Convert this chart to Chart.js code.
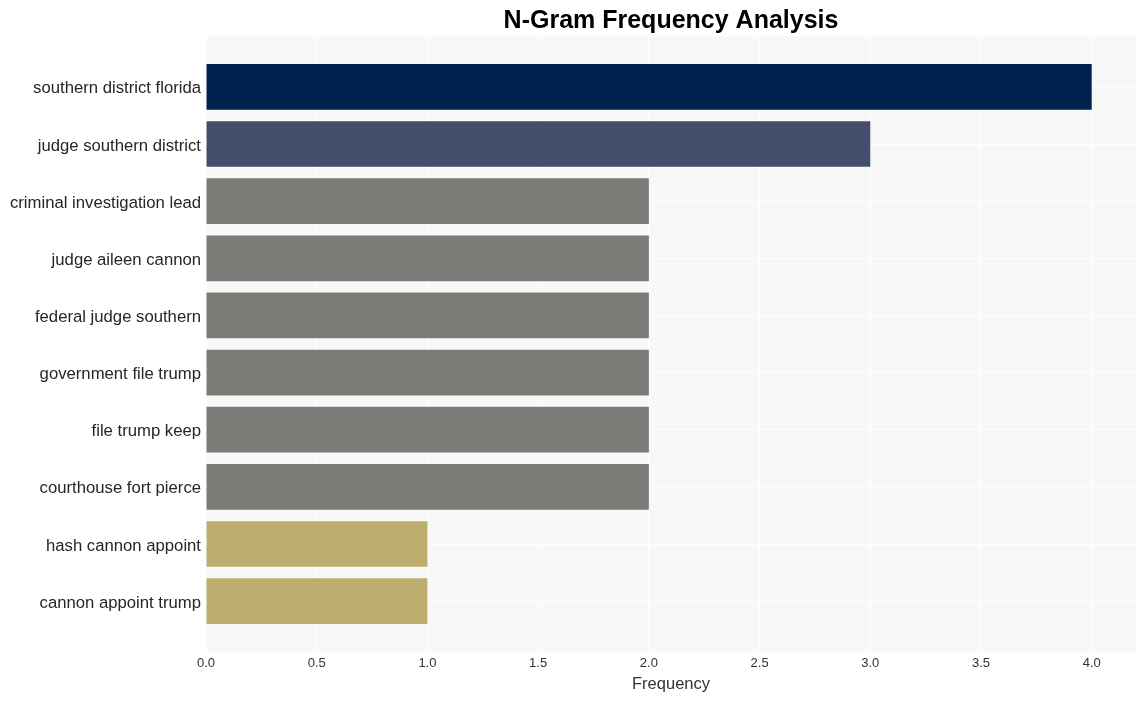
<!DOCTYPE html>
<html>
<head>
<meta charset="utf-8">
<script src="https://cdn.jsdelivr.net/npm/chart.js@4.4.1/dist/chart.umd.min.js"></script>
<style>
  html, body { margin: 0; padding: 0; background: #fff; }
  #wrap { width: 1145px; height: 701px; }
</style>
</head>
<body>
<div id="wrap"><canvas id="ngramChart"></canvas></div>
<script>
// n-grams, top to bottom
const ngrams = [
  'southern district florida',
  'judge southern district',
  'criminal investigation lead',
  'judge aileen cannon',
  'federal judge southern',
  'government file trump',
  'file trump keep',
  'courthouse fort pierce',
  'hash cannon appoint',
  'cannon appoint trump'
];
const frequencies = [4, 3, 2, 2, 2, 2, 2, 2, 1, 1];
const barColors = ['#00224e', '#434e6c', '#7c7b78', '#7c7b78', '#7c7b78', '#7c7b78', '#7c7b78', '#7c7b78', '#bcad6e', '#bcad6e'];
const xTicks = [0, 0.5, 1, 1.5, 2, 2.5, 3, 3.5, 4];

const titleText = 'N-Gram Frequency Analysis';

// grey plot background + title centred over the plot area
const plotBackground = {
  id: 'plotBackground',
  beforeDraw(chart) {
    const { ctx, chartArea } = chart;
    ctx.save();
    ctx.fillStyle = '#f8f8f8';
    ctx.fillRect(chartArea.left, chartArea.top, chartArea.right - chartArea.left, chartArea.bottom - chartArea.top);
    ctx.restore();
  },
  afterDraw(chart) {
    const { ctx, chartArea } = chart;
    ctx.save();
    ctx.fillStyle = '#000';
    ctx.font = 'bold 25px "Liberation Sans", Arial, sans-serif';
    ctx.textAlign = 'center';
    ctx.textBaseline = 'middle';
    ctx.fillText(titleText, (chartArea.left + chartArea.right) / 2, 21);
    ctx.restore();
  }
};

const ctx = document.getElementById('ngramChart').getContext('2d');
const ngramChart = new Chart(ctx, {
  type: 'bar',
  data: {
    datasets: [{
      data: frequencies.map((v, i) => ({ x: v, y: i })),
      backgroundColor: barColors,
      borderWidth: 0,
      categoryPercentage: 1,
      barPercentage: 0.8
    }]
  },
  options: {
    indexAxis: 'y',
    responsive: true,
    maintainAspectRatio: false,
    animation: false,
    layout: {
      padding: { top: 36, right: 9, left: 0, bottom: 0 }
    },
    scales: {
      x: {
        type: 'linear',
        min: 0,
        max: 4.2,
        afterBuildTicks: scale => { scale.ticks = xTicks.map(v => ({ value: v })); },
        afterFit: scale => { scale.height = 49; },
        grid: { color: '#ffffff', lineWidth: 1, drawTicks: false },
        border: { display: false },
        ticks: {
          padding: 4,
          color: '#333333',
          font: { family: '"Liberation Sans", Arial, sans-serif', size: 13 },
          callback: v => v.toFixed(1)
        },
        title: {
          display: true,
          text: 'Frequency',
          color: '#333333',
          padding: { top: 0, bottom: 7 },
          font: { family: '"Liberation Sans", Arial, sans-serif', size: 16.5 }
        }
      },
      y: {
        type: 'linear',
        reverse: true,
        offset: false,
        min: -0.89,
        max: 9.89,
        afterBuildTicks: scale => { scale.ticks = ngrams.map((n, i) => ({ value: i })); },
        afterFit: scale => { scale.width = 206; },
        grid: { color: '#ffffff', lineWidth: 1, drawTicks: false, offset: false },
        border: { display: false },
        ticks: {
          padding: 5,
          labelOffset: 2,
          color: '#262626',
          font: { family: '"Liberation Sans", Arial, sans-serif', size: 16.7 },
          callback: v => ngrams[v]
        }
      }
    },
    plugins: {
      legend: { display: false },
      tooltip: { enabled: false },
      title: { display: false }
    }
  },
  plugins: [plotBackground]
});
</script>
</body>
</html>
